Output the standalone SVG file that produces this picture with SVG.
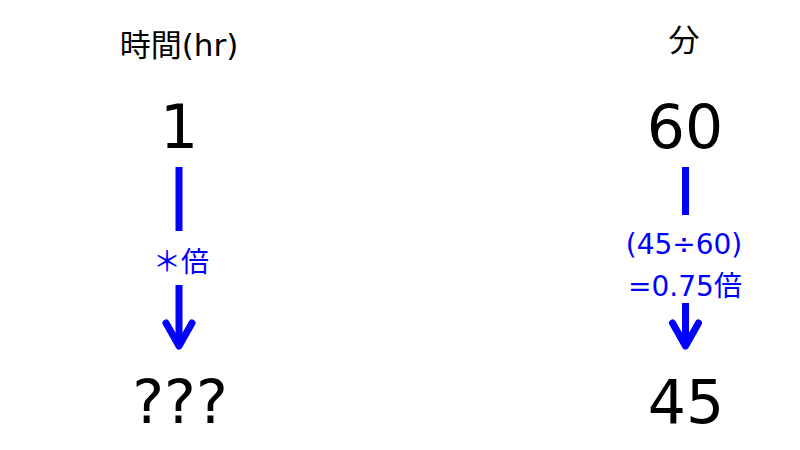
<svg xmlns="http://www.w3.org/2000/svg" width="800" height="450" viewBox="0 0 800 450">
<style>
.t{font-family:"DejaVu Sans","Noto Sans CJK JP",sans-serif;fill:#000;text-anchor:middle}
.h{font-size:31px}
.n{font-size:60px}
.b{font-family:"DejaVu Sans","Noto Sans CJK JP",sans-serif;fill:#0000ff;text-anchor:middle;font-size:28px}
.bar{stroke:#0000ff;stroke-width:7;fill:none}
.head{stroke:#0000ff;stroke-width:7;fill:none;stroke-linecap:round;stroke-linejoin:round}
</style>
<rect width="800" height="450" fill="#fff"/>
<g id="hdr-time"><text class="t h" x="179" y="56">時間(hr)</text></g>
<g id="hdr-min"><text class="t h" x="684" y="51">分</text></g>
<g id="n-1"><text class="t n" x="179" y="148">1</text></g>
<g id="n-60"><text class="t n" x="685" y="148">60</text></g>
<g id="n-q"><text class="t n" x="180" y="423">???</text></g>
<g id="n-45"><text class="t n" x="686" y="423">45</text></g>
<g id="connectors">
<line class="bar" x1="179" y1="167" x2="179" y2="231"/>
<line class="bar" x1="179" y1="285" x2="179" y2="344"/>
<polyline class="head" points="166,323 179,346 192,323"/>
<text class="b" x="181" y="272">＊倍</text>
<line class="bar" x1="685.5" y1="167" x2="685.5" y2="215"/>
<line class="bar" x1="685.5" y1="303" x2="685.5" y2="344"/>
<polyline class="head" points="672.5,323 685.5,346 698.5,323"/>
<text class="b" x="684" y="254">(45÷60)</text>
<text class="b" x="685" y="296">=0.75倍</text>
</g>
</svg>
